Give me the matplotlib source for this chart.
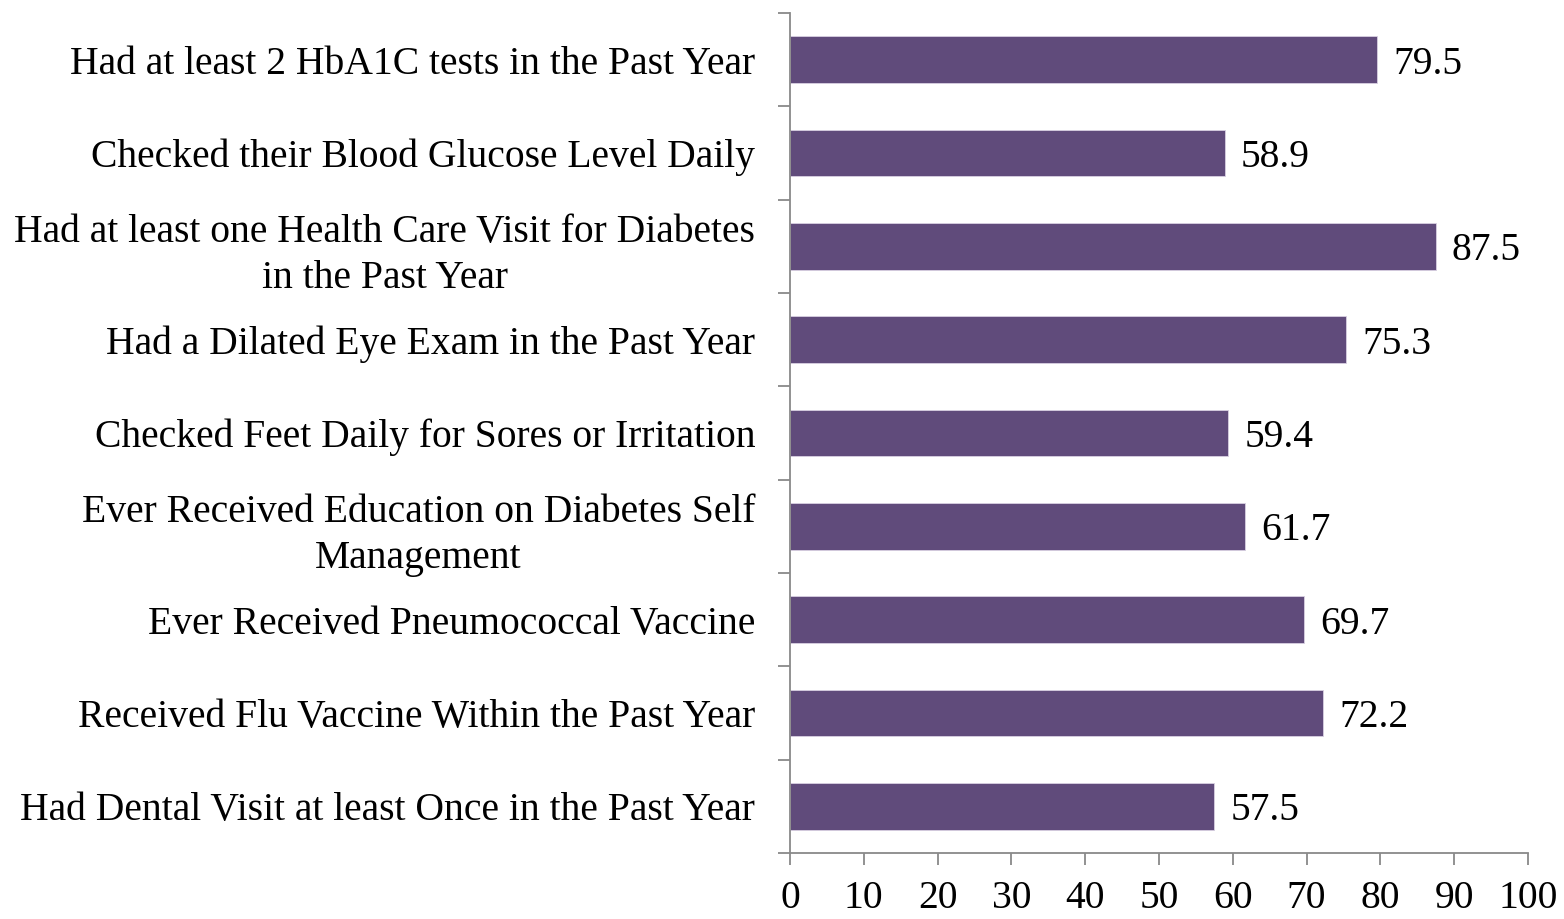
import matplotlib
matplotlib.use("Agg")
import matplotlib.pyplot as plt
import numpy as np

categories = [
    "Had at least 2 HbA1C tests in the Past Year",
    "Checked their Blood Glucose Level Daily",
    "Had at least one Health Care Visit for Diabetes\nin the Past Year",
    "Had a Dilated Eye Exam in the Past Year",
    "Checked Feet Daily for Sores or Irritation",
    "Ever Received Education on Diabetes Self\nManagement",
    "Ever Received Pneumococcal Vaccine",
    "Received Flu Vaccine Within the Past Year",
    "Had Dental Visit at least Once in the Past Year",
]
values = [79.5, 58.9, 87.5, 75.3, 59.4, 61.7, 69.7, 72.2, 57.5]
x_ticks = [0, 10, 20, 30, 40, 50, 60, 70, 80, 90, 100]

plt.rcParams["font.family"] = ["Liberation Serif", "DejaVu Serif"]
FS = 28.5
BAR = "#604b7b"
AXC = "#898989"

fig = plt.figure(figsize=(15.64, 9.19), dpi=100)
ax = fig.add_axes([790 / 1564, 1 - 853 / 919, (1528 - 790) / 1564, (853 - 13) / 919])

y = np.arange(len(categories))
ax.barh(y, values, height=0.5, color=BAR, edgecolor="#d8d0e2", linewidth=0.6)

for yi, v in zip(y, values):
    ax.text(v + 2.2, yi, f"{v:.1f}", va="center_baseline", ha="left",
            fontsize=FS, color="black")

ax.set_xlim(0, 100)
ax.set_ylim(len(categories) - 0.5, -0.5)
ax.set_xticks(x_ticks)
ax.set_xticklabels([str(t) for t in x_ticks], fontsize=FS)
ax.set_yticks(y)
ax.set_yticklabels(categories, fontsize=FS, multialignment="center", linespacing=1.32)
ax.set_yticks(np.arange(len(categories) + 1) - 0.5, minor=True)

ax.tick_params(axis="y", which="major", length=0, pad=25)
ax.tick_params(axis="y", which="minor", length=8.6, width=1.3, color=AXC, direction="out")
ax.tick_params(axis="x", which="major", length=8.6, width=1.3, color=AXC, direction="out", pad=10.5)

for side in ("top", "right"):
    ax.spines[side].set_visible(False)
for side in ("left", "bottom"):
    ax.spines[side].set_color(AXC)
    ax.spines[side].set_linewidth(1.3)

fig.savefig("out.png", dpi=100, facecolor="white")
